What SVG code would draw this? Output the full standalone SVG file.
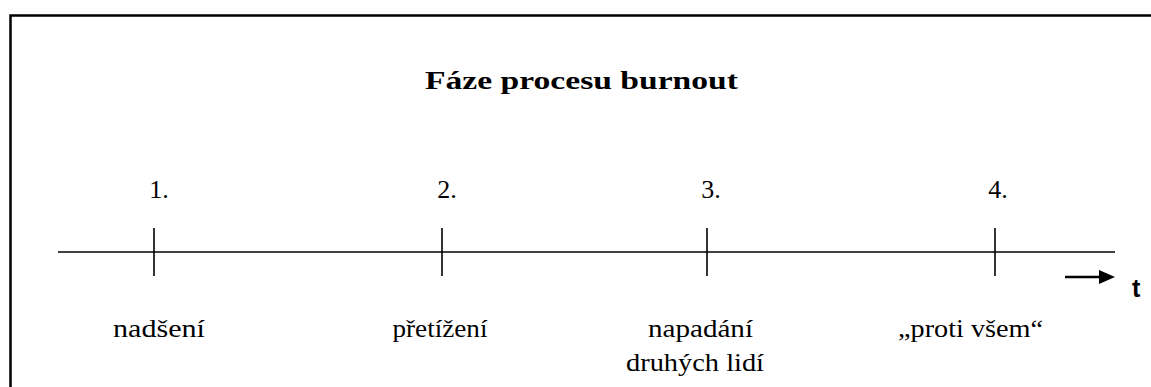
<svg xmlns="http://www.w3.org/2000/svg" width="1151" height="387" viewBox="0 0 1151 387">
<style>
.frame{fill:none;stroke:#000;stroke-width:2.5}
.ln{stroke:#000;stroke-width:1.6;fill:none}
.title{font-family:"Liberation Serif",serif;font-weight:bold;font-size:26px;fill:#000}
.num{font-family:"Liberation Serif",serif;font-size:26px;fill:#000;text-anchor:middle}
.lbl{font-family:"Liberation Serif",serif;font-size:25px;fill:#000;text-anchor:middle}
.t{font-family:"Liberation Sans",sans-serif;font-weight:bold;font-size:25px;fill:#000}
</style>
<path class="frame" d="M10.5,387 L10.5,15.5 L1151,15.5"/>
<text class="title" x="425" y="89" textLength="313" lengthAdjust="spacingAndGlyphs">Fáze procesu burnout</text>
<g id="connectors">
<line class="ln" x1="58" y1="252" x2="1115" y2="252"/>
<line class="ln" x1="154" y1="228" x2="154" y2="276"/>
<line class="ln" x1="442" y1="228" x2="442" y2="276"/>
<line class="ln" x1="707" y1="228" x2="707" y2="276"/>
<line class="ln" x1="995" y1="228" x2="995" y2="276"/>
<path d="M1065,277 L1100,277" stroke="#000" stroke-width="2.4"/>
<path d="M1099,270 L1115,277 L1099,284 Z" fill="#000"/>
</g>
<g id="n1"><text class="num" x="159" y="198">1.</text><text class="lbl" x="159" y="337" textLength="92" lengthAdjust="spacingAndGlyphs">nadšení</text></g>
<g id="n2"><text class="num" x="447" y="198">2.</text><text class="lbl" x="440" y="337" textLength="95" lengthAdjust="spacingAndGlyphs">přetížení</text></g>
<g id="n3"><text class="num" x="711" y="198">3.</text><text class="lbl" x="700.5" y="337" textLength="105" lengthAdjust="spacingAndGlyphs">napadání</text><text class="lbl" x="695" y="371" textLength="138" lengthAdjust="spacingAndGlyphs">druhých lidí</text></g>
<g id="n4"><text class="num" x="998" y="198">4.</text><text class="lbl" x="970.5" y="337" textLength="145" lengthAdjust="spacingAndGlyphs">„proti všem“</text></g>
<text class="t" x="1132" y="297">t</text>
</svg>
